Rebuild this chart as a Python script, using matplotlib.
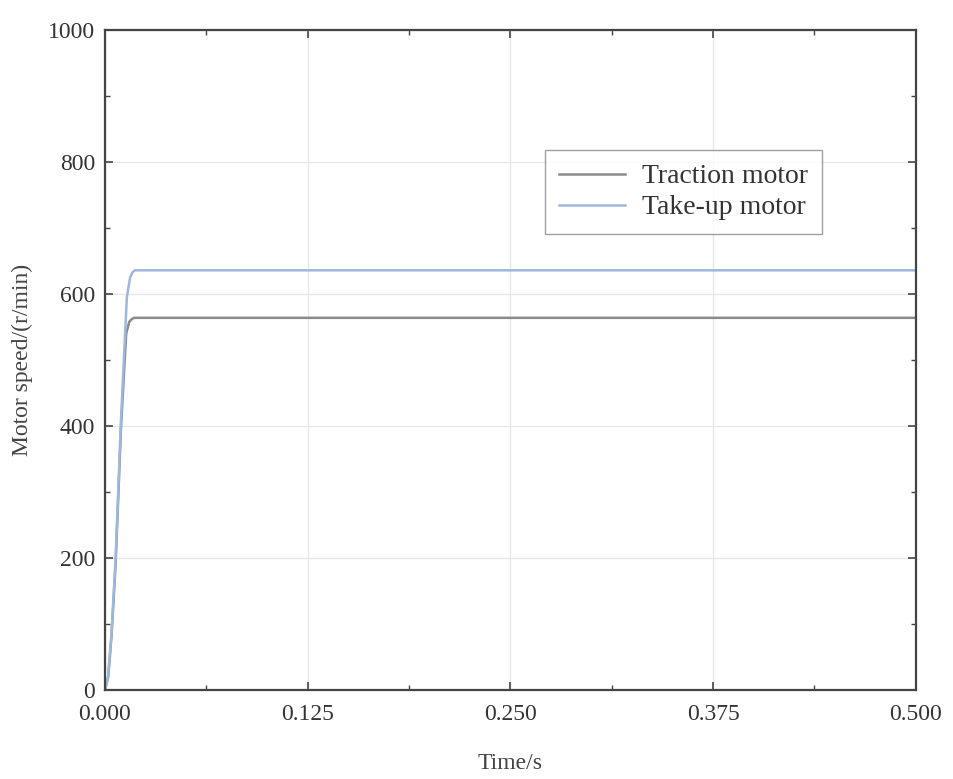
import matplotlib
matplotlib.use("Agg")
import matplotlib.pyplot as plt
from matplotlib.ticker import MultipleLocator

plt.rcParams["font.family"] = ["Liberation Serif", "DejaVu Serif"]

# start-up speed curves
time_traction = [0.0, 0.002, 0.004, 0.0066, 0.0099, 0.0131, 0.0150, 0.0165, 0.0180, 0.020, 0.5]
speed_traction = [0, 20, 80, 192, 398, 540, 558, 562, 564, 564, 564]
time_takeup = [0.0, 0.002, 0.004, 0.0066, 0.0099, 0.0135, 0.0155, 0.0170, 0.0185, 0.020, 0.5]
speed_takeup = [0, 22, 85, 200, 410, 595, 625, 633, 636, 636, 636]

fig = plt.figure(figsize=(9.54, 7.79), dpi=100)
ax = fig.add_axes([0.110, 0.114, 0.850, 0.8475])

ax.plot(time_traction, speed_traction, color="#8a8a8a", linewidth=1.8, label="Traction motor")
ax.plot(time_takeup, speed_takeup, color="#9db8dc", linewidth=1.8, label="Take-up motor")

ax.set_xlim(0, 0.5)
ax.set_ylim(0, 1000)
ax.xaxis.set_major_locator(MultipleLocator(0.125))
ax.xaxis.set_minor_locator(MultipleLocator(0.0625))
ax.yaxis.set_major_locator(MultipleLocator(200))
ax.yaxis.set_minor_locator(MultipleLocator(100))
ax.xaxis.set_major_formatter(plt.FuncFormatter(lambda v, p: f"{v:.3f}"))

ax.tick_params(which="both", direction="in", top=True, right=True, colors="#444444",
               labelcolor="#333333", labelsize=17)
ax.tick_params(axis="x", which="major", pad=10)
ax.tick_params(axis="y", which="major", pad=7)
ax.tick_params(which="major", length=6, width=1.2)
ax.tick_params(which="minor", length=3.5, width=1.0)
for s in ax.spines.values():
    s.set_color("#444444")
    s.set_linewidth(1.6)

ax.grid(True, which="major", color="#e6e6e6", linewidth=0.9)

ax.set_xlabel("Time/s", fontsize=17, color="#444444", labelpad=20)
ax.set_ylabel("Motor speed/(r/min)", fontsize=17, color="#444444", labelpad=11)

leg = ax.legend(loc="upper left", bbox_to_anchor=(0.5425, 0.818), fontsize=20,
                frameon=True, fancybox=False, borderpad=0.5, handlelength=2.4,
                handletextpad=0.6, labelspacing=0.2, borderaxespad=0)
leg.get_frame().set_edgecolor("#888888")
leg.get_frame().set_linewidth(1.0)
for t in leg.get_texts():
    t.set_color("#333333")

fig.savefig("out.png", dpi=100)
